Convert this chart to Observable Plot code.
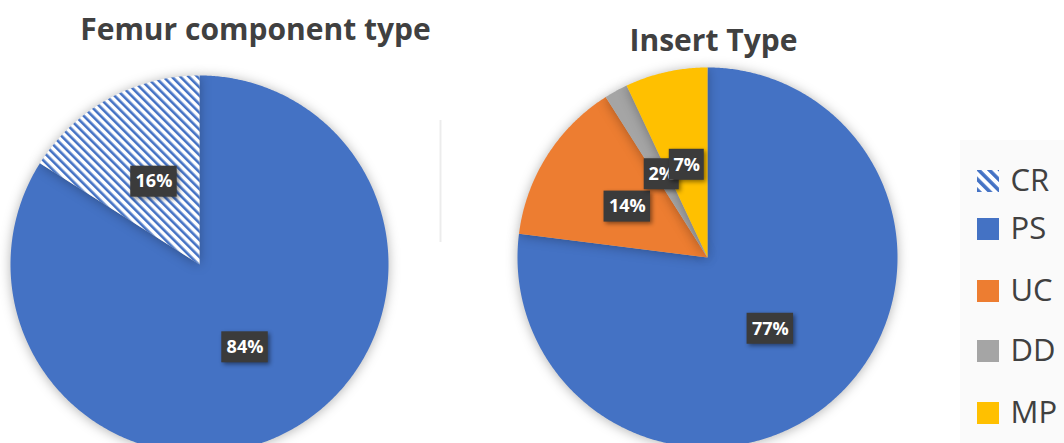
<!DOCTYPE html>
<html>
<head>
<meta charset="utf-8">
<script src="https://cdn.jsdelivr.net/npm/d3@7"></script>
<script src="https://cdn.jsdelivr.net/npm/@observablehq/plot@0.6"></script>
<style>
  html, body { margin: 0; padding: 0; background: #fff; }
  #chart { width: 1064px; height: 443px; overflow: hidden; }
</style>
</head>
<body>
<div id="chart"></div>
<script>
// ---- Data ----
const femurTitle = "Femur component type";
const femurCats = ["PS", "CR"];          // clockwise from 12 o'clock
const femurValues = [84, 16];

const insertTitle = "Insert Type";
const insertCats = ["PS", "UC", "DD", "MP"];
const insertValues = [77, 14, 2, 7];

const legendCats = ["CR", "PS", "UC", "DD", "MP"];
const catColors = {CR: "url(#hatch)", PS: "#4472C4", UC: "#ED7D31", DD: "#A5A5A5", MP: "#FFC000"};
const legendColors = {...catColors, CR: "url(#hatchL)"};

// ---- Layout ----
const W = 1064, H = 443;
const pies = [
  {title: femurTitle, cats: femurCats, values: femurValues, cx: 199, cy: 264, r: 189, tx: 255, ty: 30},
  {title: insertTitle, cats: insertCats, values: insertValues, cx: 707, cy: 257, r: 190, tx: 713, ty: 41}
];
const legendX = 977, legendBox = 22, legendYs = [181, 229, 291, 351, 413];
const textColor = "#404040";
const FONT = "Open Sans";

function buildPie(p) {
  const total = d3.sum(p.values);
  let acc = 0;
  const slices = [];
  const labels = [];
  p.values.forEach((v, i) => {
    const a0 = acc / total * 2 * Math.PI;
    acc += v;
    const a1 = acc / total * 2 * Math.PI;
    const cat = p.cats[i];
    const pts = [{x: p.cx, y: p.cy}];
    const n = Math.max(2, Math.ceil((a1 - a0) / (Math.PI / 360)));
    for (let k = 0; k <= n; k++) {
      const a = a0 + (a1 - a0) * k / n;
      pts.push({x: p.cx + p.r * Math.sin(a), y: p.cy - p.r * Math.cos(a)});
    }
    pts.push({x: p.cx, y: p.cy});
    slices.push({cat, pts});
    const am = (a0 + a1) / 2, lr = p.r * 0.5;
    const label = Math.round(v / total * 100) + "%";
    labels.push({label, x: p.cx + lr * Math.sin(am), y: p.cy - lr * Math.cos(am), w: label.length * 11.5 + 12, h: 31});
  });
  return {slices, labels};
}

const built = pies.map(buildPie);
const allLabels = built.flatMap(b => b.labels);
const legend = legendCats.map((c, i) => ({cat: c, y: legendYs[i]}));

const marks = [
  Plot.rect([0], {x1: 960, x2: W, y1: 140, y2: H, fill: "#fafafa"}),
  Plot.ruleX([440], {y1: 120, y2: 242, stroke: "#ececec", strokeWidth: 2}),
  ...built.flatMap(b => b.slices.map(sl =>
    Plot.line(sl.pts, {x: "x", y: "y", fill: catColors[sl.cat], stroke: "none", ariaDescription: "pie"}))),
  Plot.text(pies, {x: "tx", y: "ty", text: "title", fontSize: 30, fontWeight: "bold", fill: textColor, fontFamily: FONT}),
  ...allLabels.flatMap(l => [
    Plot.rect([l], {x1: d => d.x - d.w / 2, x2: d => d.x + d.w / 2, y1: d => d.y - d.h / 2, y2: d => d.y + d.h / 2, fill: "#3b3b3b", ariaDescription: "labelbox"}),
    Plot.text([l], {x: "x", y: "y", text: "label", fill: "white", fontSize: 18, fontWeight: "bold", fontFamily: FONT})
  ]),
  ...legend.map(l => Plot.rect([l], {x1: legendX, x2: legendX + legendBox, y1: d => d.y - legendBox / 2, y2: d => d.y + legendBox / 2, fill: legendColors[l.cat]})),
  Plot.text(legend, {x: legendX + 33, y: "y", text: "cat", textAnchor: "start", fontSize: 31, fill: textColor, fontFamily: FONT})
];

const svg = Plot.plot({
  width: W, height: H, margin: 0,
  x: {domain: [0, W], range: [0, W], axis: null},
  y: {domain: [0, H], range: [0, H], axis: null},
  style: {background: "white", overflow: "hidden"},
  marks
});

const s = d3.select(svg);
s.insert("defs", ":first-child").html(
  `<pattern id="hatch" patternUnits="userSpaceOnUse" width="6" height="6" patternTransform="rotate(-45)">
     <rect width="6" height="6" fill="#fff"></rect>
     <rect width="2.6" height="6" fill="#4472C4"></rect>
   </pattern>
   <pattern id="hatchL" patternUnits="userSpaceOnUse" width="7.5" height="7.5" patternTransform="rotate(-45)">
     <rect width="7.5" height="7.5" fill="#fff"></rect>
     <rect width="3.6" height="7.5" fill="#4472C4"></rect>
   </pattern>`
);
s.selectAll('g[aria-description="pie"]').style("filter", "drop-shadow(0px 1px 6px rgba(0,0,0,0.3))");
s.selectAll('g[aria-description="labelbox"]').style("filter", "drop-shadow(2px 2px 2px rgba(0,0,0,0.45))");

document.getElementById("chart").appendChild(svg);
</script>
</body>
</html>
